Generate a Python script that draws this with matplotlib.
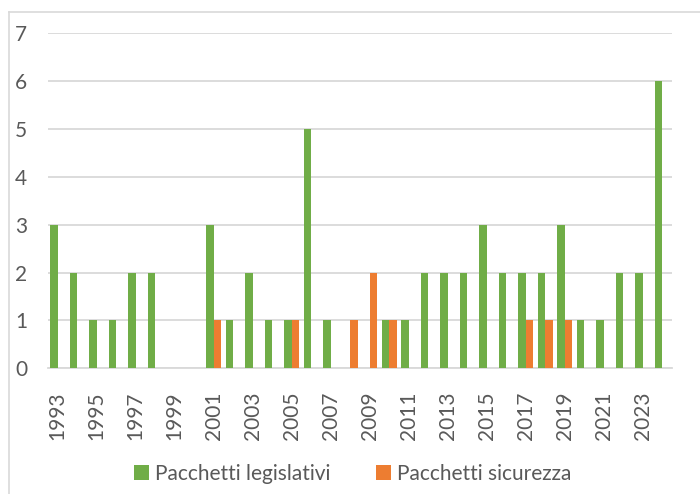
import matplotlib
matplotlib.use('Agg')
import matplotlib.pyplot as plt
from matplotlib.lines import Line2D
import numpy as np

years = list(range(1993, 2025))
legislativi = [3, 2, 1, 1, 2, 2, 0, 0, 3, 1, 2, 1, 1, 5, 1, 0,
               0, 1, 1, 2, 2, 2, 3, 2, 2, 2, 3, 1, 1, 2, 2, 6]
sicurezza = [0, 0, 0, 0, 0, 0, 0, 0, 1, 0, 0, 0, 1, 0, 0, 1,
             2, 1, 0, 0, 0, 0, 0, 0, 1, 1, 1, 0, 0, 0, 0, 0]
series_names = ['Pacchetti legislativi', 'Pacchetti sicurezza']

GREEN = '#70AD47'
ORANGE = '#ED7D31'
GRID = '#D9D9D9'
TEXT = '#595959'

plt.rcParams['font.family'] = ['Lato', 'DejaVu Sans']

fig = plt.figure(figsize=(7, 4.94), dpi=100)
ax = fig.add_axes([48 / 700, 125.7 / 494, 624 / 700, 335 / 494])

x = np.arange(len(years))
w = 0.375
ax.bar(x - w / 2, legislativi, width=w, color=GREEN, label=series_names[0], zorder=3)
ax.bar(x + w / 2, sicurezza, width=w, color=ORANGE, label=series_names[1], zorder=3)

ax.set_xlim(-0.5, len(years) - 0.5)
ax.set_ylim(0, 7)
ax.set_yticks(range(0, 8))
ax.yaxis.grid(True, color=GRID, linewidth=1.3, zorder=0)
ax.set_axisbelow(True)

ax.set_xticks(x[::2])
ax.set_xticklabels([str(y) for y in years[::2]], rotation=90, va='top', ha='center')

for s in ['top', 'right', 'left']:
    ax.spines[s].set_visible(False)
ax.spines['bottom'].set_color(GRID)
ax.spines['bottom'].set_linewidth(1.3)

ax.tick_params(axis='y', length=0, pad=15, labelsize=15, labelcolor=TEXT)
ax.tick_params(axis='x', length=0, pad=17, labelsize=15, labelcolor=TEXT)

leg = fig.legend(loc='center', bbox_to_anchor=(353 / 700, 20 / 494), ncol=2,
                 frameon=False, fontsize=15, handlelength=0.7, handleheight=0.7,
                 handletextpad=0.3, columnspacing=2.2)
for t in leg.get_texts():
    t.set_color(TEXT)

# chart area border (left and top only visible)
fig.add_artist(Line2D([9 / 700, 9 / 700], [0, 1 - 12 / 494], color=GRID, linewidth=1.2))
fig.add_artist(Line2D([9 / 700, 1], [1 - 12 / 494, 1 - 12 / 494], color=GRID, linewidth=1.2))

fig.savefig('out.png', dpi=100)
